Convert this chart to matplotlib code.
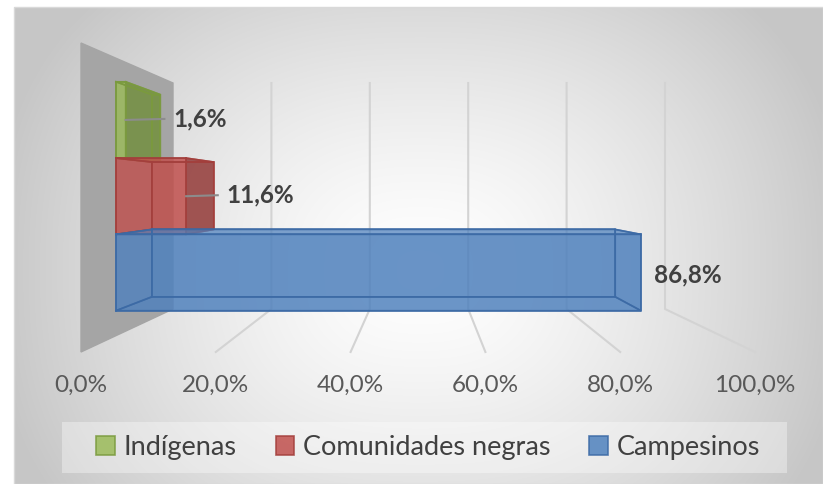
import numpy as np
import matplotlib
matplotlib.use("Agg")
import matplotlib.pyplot as plt
from matplotlib.patches import Patch, Rectangle

# data
categories = ["Indígenas", "Comunidades negras", "Campesinos"]
values = [1.6, 11.6, 86.8]
colors = ["#9BBB59", "#C0504D", "#4F81BD"]
edge_colors = ["#7A9A3E", "#A33F3C", "#3C6AA5"]
side_colors = ["#6E8A3C", "#8E3B39", "#3F6BA3"]
ticks = [0, 20, 40, 60, 80, 100]
tick_labels = ["0,0%", "20,0%", "40,0%", "60,0%", "80,0%", "100,0%"]

plt.rcParams['font.family'] = ['Lato', 'DejaVu Sans']

W, H = 823, 484
fig = plt.figure(figsize=(W / 100, H / 100), dpi=100)
ax = fig.add_axes([0, 0, 1, 1])
ax.set_xlim(0, W)
ax.set_ylim(H, 0)
ax.axis('off')

# background: chart area with soft gradient
cx0, cy0 = 14, 7
yy, xx = np.mgrid[cy0:H, cx0:W]
r = ((np.abs(xx - 420) / 430) ** 2.5 + (np.abs(yy - 270) / 360) ** 2.5) ** 0.4
shade = 255 - 57 * np.clip(r, 0, 1) ** 1.4
img = np.dstack([shade, shade, shade]) / 255
ax.imshow(img, extent=[cx0, W, H, cy0], zorder=0, aspect='auto')
ax.add_patch(Rectangle((cx0, cy0), W - cx0, H - cy0, fill=False,
                       edgecolor='#D9D9D9', lw=1, zorder=1))

# simple 3d projection: v = value (%), u = 0 top..1 bottom, d = 0 front..1 back
FRONT_X0, FRONT_SX, FRONT_TOP, FRONT_BOT = 81, 6.74, 43, 352
BACK_X0, BACK_SX, BACK_TOP, BACK_BOT = 173, 4.92, 83, 309


def proj(v, u, d):
    x0 = FRONT_X0 + (BACK_X0 - FRONT_X0) * d
    sx = FRONT_SX + (BACK_SX - FRONT_SX) * d
    top = FRONT_TOP + (BACK_TOP - FRONT_TOP) * d
    bot = FRONT_BOT + (BACK_BOT - FRONT_BOT) * d
    return x0 + sx * v, top + (bot - top) * u


def face(pts, fc, ec, alpha, z):
    xs, ys = zip(*[proj(*p) for p in pts])
    ax.fill(xs, ys, facecolor=fc, edgecolor='none', alpha=alpha, zorder=z)
    ax.plot(list(xs) + [xs[0]], list(ys) + [ys[0]], color=ec, lw=1.2,
            alpha=0.85, zorder=z + 0.1, solid_joinstyle='miter')


# side wall
wall = [(0, 0, 0), (0, 0, 1), (0, 1, 1), (0, 1, 0)]
xs, ys = zip(*[proj(*p) for p in wall])
ax.fill(xs, ys, color='#A5A5A5', zorder=2)

# gridlines (back wall + floor)
for t in ticks[1:]:
    p1, p2, p3 = proj(t, 0, 1), proj(t, 1, 1), proj(t, 1, 0)
    ax.plot([p1[0], p2[0], p3[0]], [p1[1], p2[1], p3[1]],
            color='#D3D3D3', lw=1.5, zorder=2)

# tick labels at the front edge
for t, lab in zip(ticks, tick_labels):
    x, _ = proj(t, 1, 0)
    ax.text(x, 385, lab, ha='center', va='center', fontsize=17.5,
            color='#595959', zorder=5)

# bars
d1, d2 = 0.38, 0.77
u_start, bar_h = 0.085, 0.275
for i, (v, c, ec, sc) in enumerate(zip(values, colors, edge_colors, side_colors)):
    u0 = u_start + bar_h * i
    u1 = u0 + bar_h
    z = 3 + i
    fx, fy = proj(v, (u0 + u1) / 2, d1)
    bx, by = proj(v, (u0 + u1) / 2, d2)
    side_visible = bx > fx
    face([(0, u0, d2), (v, u0, d2), (v, u1, d2), (0, u1, d2)], c, ec, 0.5, z)
    face([(0, u0, d1), (0, u0, d2), (0, u1, d2), (0, u1, d1)], c, ec, 0.35, z)
    face([(0, u1, d1), (v, u1, d1), (v, u1, d2), (0, u1, d2)], c, ec, 0.45, z)
    face([(0, u0, d1), (v, u0, d1), (v, u0, d2), (0, u0, d2)], c, ec, 0.45, z)
    face([(v, u0, d1), (v, u0, d2), (v, u1, d2), (v, u1, d1)],
         sc if side_visible else c, ec, 0.75 if side_visible else 0.5, z)
    face([(0, u0, d1), (v, u0, d1), (v, u1, d1), (0, u1, d1)], c, ec, 0.7, z)

    # data label
    lx = max(fx, bx) + 13
    ly = fy + (2 if v > 50 else -1)
    label = f"{v:.1f}%".replace(".", ",")
    ax.text(lx, ly, label, ha='left', va='center', fontsize=17.5,
            fontweight='bold', color='#404040', zorder=10)
    if side_visible:
        ax.plot([fx, lx - 9], [fy, ly], color='#8C8C8C', lw=1.5, zorder=9)

# legend
ax.add_patch(Rectangle((62, 422), 725, 51, facecolor='white', alpha=0.35,
                       edgecolor='none', zorder=5))
handles = [Patch(facecolor=c, edgecolor=ec, lw=1.2, alpha=0.85)
           for c, ec in zip(colors, edge_colors)]
ax.legend(handles, categories, loc='center', bbox_to_anchor=(428 / W, 1 - 447.5 / H),
          ncol=3, frameon=False, fontsize=19.5, handlelength=0.7, handleheight=0.7,
          handletextpad=0.3, columnspacing=1.45, labelcolor='#404040')

fig.savefig("out.png", dpi=100)
